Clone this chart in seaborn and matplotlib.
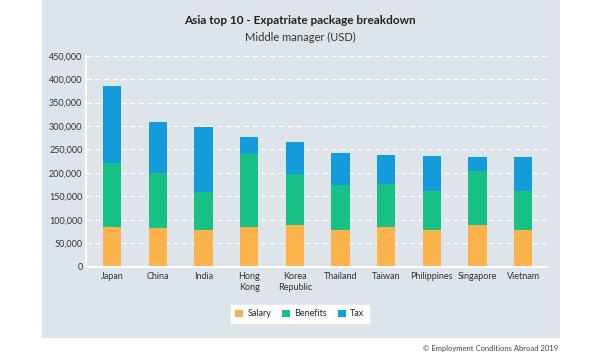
import matplotlib
matplotlib.use("Agg")
import matplotlib.pyplot as plt
import seaborn as sns
import pandas as pd
from matplotlib.patches import Rectangle

countries = ["Japan", "China", "India", "Hong\nKong", "Korea\nRepublic", "Thailand",
             "Taiwan", "Philippines", "Singapore", "Vietnam"]
salary = [85000, 83000, 78000, 85000, 90000, 79000, 84000, 79000, 89000, 79000]
benefits = [137000, 116000, 81000, 156000, 108000, 96000, 92000, 82000, 116000, 82000]
tax = [164000, 110000, 140000, 35000, 68000, 67000, 62000, 76000, 30000, 73000]

yticks = list(range(0, 450001, 50000))

panel = "#dde5eb"
c_salary = "#fbb24b"
c_benefits = "#17c084"
c_tax = "#149bdc"

df = pd.DataFrame({"country": countries, "salary": salary, "benefits": benefits, "tax": tax})
df["sb"] = df["salary"] + df["benefits"]
df["total"] = df["sb"] + df["tax"]

sns.set_style("white")
plt.rcParams["font.family"] = ["Lato", "DejaVu Sans"]

fig = plt.figure(figsize=(6, 3.6), dpi=100)
# light grey-blue card behind the chart
fig.add_artist(Rectangle((42 / 600, 1 - 338 / 360), 518 / 600, 338 / 360,
                         transform=fig.transFigure, facecolor=panel, edgecolor="none", zorder=-10))
ax = fig.add_axes([86 / 600, 1 - 266.7 / 360, 461 / 600, 211 / 360])
ax.set_facecolor(panel)

# stacked bars: draw cumulative totals, largest first
for col, c, lab in [("total", c_tax, "Tax"), ("sb", c_benefits, "Benefits"), ("salary", c_salary, "Salary")]:
    sns.barplot(data=df, x="country", y=col, color=c, width=0.4, saturation=1,
                linewidth=0, ax=ax, label=lab, zorder=3)

ax.set_ylim(0, 450000)
ax.set_xlim(-0.57, 9.52)
ax.set_yticks(yticks)
ax.set_yticklabels([f"{v:,}" for v in yticks])
ax.set_xlabel("")
ax.set_ylabel("")
ax.yaxis.grid(True, color="white", linestyle=(0, (4, 3)), linewidth=0.9)
ax.set_axisbelow(True)
for s in ["top", "right"]:
    ax.spines[s].set_visible(False)
for s in ["left", "bottom"]:
    ax.spines[s].set_color("white")
    ax.spines[s].set_linewidth(1.5)
    ax.spines[s].set_zorder(4)
ax.tick_params(axis="both", length=0, labelsize=6.5, labelcolor="#333333")
ax.tick_params(axis="y", pad=2.5)
ax.tick_params(axis="x", pad=4)

handles, labels = ax.get_legend_handles_labels()
order = ["Salary", "Benefits", "Tax"]
hmap = dict(zip(labels, handles))
ax.legend([hmap[k] for k in order], order, loc="center", bbox_to_anchor=(0.5, 1 - 314 / 360),
          bbox_transform=fig.transFigure, ncol=3, frameon=True, fancybox=False,
          facecolor="white", edgecolor="white", framealpha=1, fontsize=6.5,
          handlelength=0.85, handleheight=0.85, columnspacing=1.2, handletextpad=0.5,
          borderpad=0.5, borderaxespad=0)

fig.text(0.5, 1 - 21 / 360, "Asia top 10 - Expatriate package breakdown", ha="center", va="center",
         fontsize=8.5, fontweight="bold", color="#222222")
fig.text(0.5, 1 - 37 / 360, "Middle manager (USD)", ha="center", va="center",
         fontsize=8, color="#333333")
fig.text(558 / 600, 1 - 349 / 360, "© Employment Conditions Abroad 2019", ha="right", va="center",
         fontsize=5.5, color="#444444")

fig.savefig("out.png", dpi=100, facecolor="white")
